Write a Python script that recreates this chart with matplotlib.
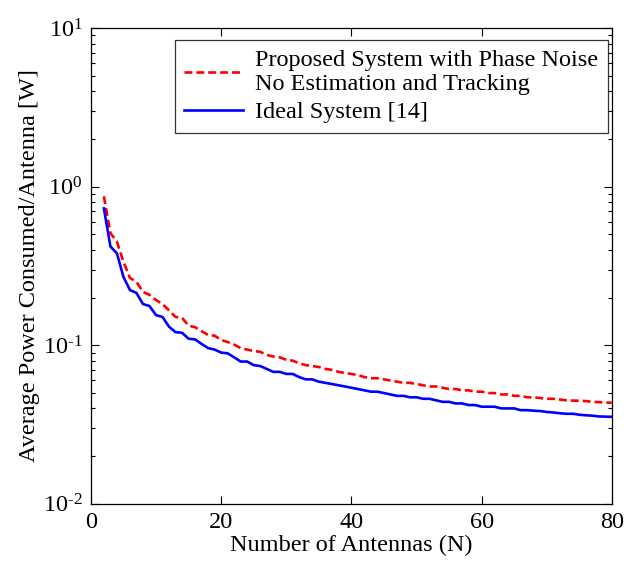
import numpy as np
import matplotlib
matplotlib.use("Agg")
import matplotlib.pyplot as plt
from matplotlib.ticker import FuncFormatter

plt.rcParams["font.family"] = ["Liberation Serif", "DejaVu Serif"]
plt.rcParams["mathtext.fontset"] = "custom"
plt.rcParams["mathtext.rm"] = "Liberation Serif"
plt.rcParams["mathtext.it"] = "Liberation Serif:italic"

# ── Data ─────────────────────────────────────────────────────────────────────
n_antennas = list(range(2, 81))

proposed_pn = [
    0.87, 0.51, 0.45, 0.336, 0.266, 0.251, 0.217, 0.208, 0.193, 0.182,
    0.166, 0.151, 0.149, 0.133, 0.130, 0.123, 0.116, 0.115, 0.108, 0.105,
    0.101, 0.096, 0.094, 0.092, 0.091, 0.087, 0.085, 0.084, 0.081, 0.080,
    0.077, 0.075, 0.074, 0.073, 0.071, 0.070, 0.068, 0.067, 0.066, 0.065,
    0.063, 0.062, 0.062, 0.061, 0.060, 0.059, 0.058, 0.058, 0.057, 0.056,
    0.055, 0.055, 0.054, 0.053, 0.053, 0.052, 0.052, 0.051, 0.051, 0.050,
    0.050, 0.049, 0.049, 0.048, 0.048, 0.047, 0.047, 0.0465, 0.046, 0.046,
    0.0455, 0.045, 0.0448, 0.0447, 0.0445, 0.044, 0.0438, 0.0436, 0.0434,
]

ideal = [
    0.73, 0.42, 0.38, 0.27, 0.223, 0.214, 0.182, 0.177, 0.155, 0.151,
    0.131, 0.121, 0.120, 0.110, 0.109, 0.102, 0.096, 0.094, 0.090, 0.089,
    0.084, 0.079, 0.079, 0.075, 0.074, 0.071, 0.068, 0.068, 0.066, 0.066,
    0.063, 0.061, 0.061, 0.059, 0.058, 0.057, 0.056, 0.055, 0.054, 0.053,
    0.052, 0.051, 0.051, 0.050, 0.049, 0.048, 0.048, 0.047, 0.047, 0.046,
    0.046, 0.045, 0.044, 0.044, 0.043, 0.043, 0.042, 0.042, 0.041, 0.041,
    0.041, 0.040, 0.040, 0.040, 0.039, 0.039, 0.0387, 0.0385, 0.038, 0.0377,
    0.0373, 0.037, 0.037, 0.0365, 0.0362, 0.036, 0.0356, 0.0355, 0.0354,
]

labels = ["Proposed System with Phase Noise\nNo Estimation and Tracking",
          "Ideal System [14]"]
x_ticks = [0, 20, 40, 60, 80]
y_ticks = [1e-2, 1e-1, 1e0, 1e1]

FS = 17.5


def decade_label(v, pos):
    # MATLAB style: big "10", small raised exponent with a plain hyphen
    e = int(round(np.log10(v)))
    exp = str(e).replace("-", "\u2010")
    return r"$\mathregular{10^{%s}}$" % exp


# ── Figure ───────────────────────────────────────────────────────────────────
fig = plt.figure(figsize=(6.4, 5.63), dpi=100)
ax = fig.add_axes([0.142, 0.105, 0.814, 0.845])

ax.semilogy(n_antennas, proposed_pn, color="#ff0000", ls=(0, (3.0, 1.5)),
            lw=1.9, label=labels[0])
ax.semilogy(n_antennas, ideal, color="#0000ff", ls="-", lw=1.9,
            label=labels[1])

ax.set_xlim(0, 80)
ax.set_ylim(1e-2, 1e1)
ax.set_xticks(x_ticks)
ax.set_yticks(y_ticks)
ax.yaxis.set_major_formatter(FuncFormatter(decade_label))
ax.tick_params(axis="both", which="both", direction="in",
               top=True, right=True, labelsize=FS, pad=6)
ax.tick_params(which="major", length=6, width=0.8)
ax.tick_params(which="minor", length=3, width=0.8)
for s in ax.spines.values():
    s.set_linewidth(0.9)

ax.set_xlabel("Number of Antennas (N)", fontsize=FS, labelpad=1)
ax.set_ylabel("Average Power Consumed/Antenna [W]", fontsize=FS, labelpad=2)

leg = ax.legend(loc="upper right", bbox_to_anchor=(0.992, 0.975),
                fontsize=FS, frameon=True, fancybox=False,
                edgecolor="black", handlelength=2.4, borderpad=0.4,
                labelspacing=0.25, handletextpad=0.5, borderaxespad=0.0)
leg.get_frame().set_linewidth(0.9)

plt.savefig("out.png", dpi=100)
plt.close()
